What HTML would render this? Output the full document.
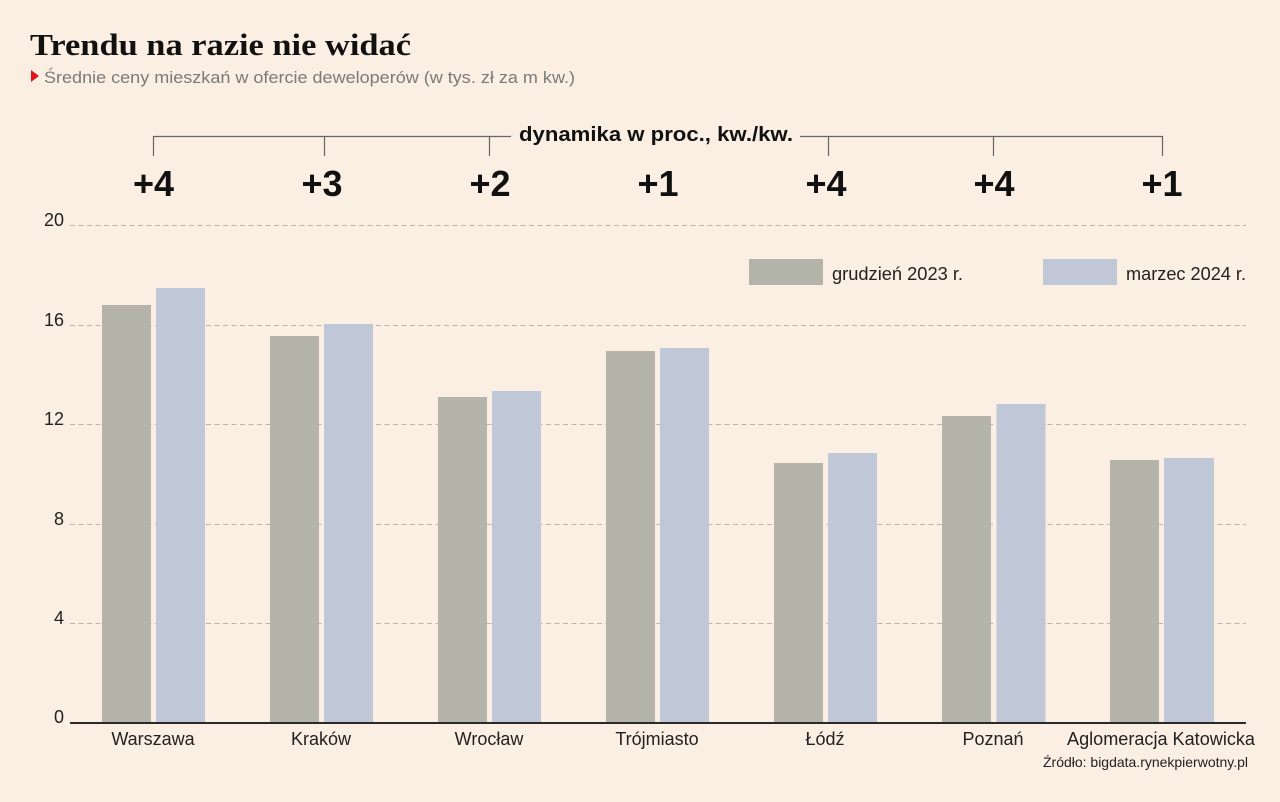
<!DOCTYPE html>
<html><head><meta charset="utf-8"><style>
html,body{margin:0;padding:0;background:#FBEEE3;}
svg{display:block;}
text{font-family:"Liberation Sans",sans-serif;}
</style></head><body>
<svg width="1280" height="802" viewBox="0 0 1280 802" xmlns="http://www.w3.org/2000/svg">
<rect width="1280" height="802" fill="#FBEEE3"/>
<text x="30" y="55" font-family="Liberation Serif, serif" style="font-family:'Liberation Serif',serif" font-weight="bold" font-size="31" fill="#111" textLength="381" lengthAdjust="spacingAndGlyphs">Trendu na razie nie widać</text>
<polygon points="31,70 39,76 31,82" fill="#E3141B"/>
<text x="44" y="83" font-size="17" fill="#7a7a7a" textLength="531" lengthAdjust="spacingAndGlyphs">Średnie ceny mieszkań w ofercie deweloperów (w tys. zł za m kw.)</text>

<!-- bracket -->
<g stroke="#666" stroke-width="1.2" fill="none">
<line x1="153.5" y1="136.5" x2="511" y2="136.5"/>
<line x1="800" y1="136.5" x2="1162.5" y2="136.5"/>
<line x1="153.5" y1="136" x2="153.5" y2="156"/>
<line x1="324.5" y1="136" x2="324.5" y2="156"/>
<line x1="489.5" y1="136" x2="489.5" y2="156"/>
<line x1="828.5" y1="136" x2="828.5" y2="156"/>
<line x1="993.5" y1="136" x2="993.5" y2="156"/>
<line x1="1162.5" y1="136" x2="1162.5" y2="156"/>
</g>
<text x="656" y="141" font-size="20" font-weight="bold" fill="#111" text-anchor="middle" textLength="274" lengthAdjust="spacingAndGlyphs">dynamika w proc., kw./kw.</text>
<g font-size="36" font-weight="bold" fill="#111" text-anchor="middle">
<text x="153.5" y="196">+4</text>
<text x="322" y="196">+3</text>
<text x="490" y="196">+2</text>
<text x="658" y="196">+1</text>
<text x="826" y="196">+4</text>
<text x="994" y="196">+4</text>
<text x="1162" y="196">+1</text>
</g>

<!-- gridlines -->
<g stroke="#BFB3AA" stroke-width="1" stroke-dasharray="5,3.5">
<line x1="70" y1="225.5" x2="1246" y2="225.5"/>
<line x1="70" y1="325.5" x2="1246" y2="325.5"/>
<line x1="70" y1="424.5" x2="1246" y2="424.5"/>
<line x1="70" y1="524.5" x2="1246" y2="524.5"/>
<line x1="70" y1="623.5" x2="1246" y2="623.5"/>
</g>
<g font-size="18" fill="#222" text-anchor="end">
<text x="64" y="226">20</text>
<text x="64" y="326">16</text>
<text x="64" y="425">12</text>
<text x="64" y="525">8</text>
<text x="64" y="624">4</text>
<text x="64" y="723">0</text>
</g>

<!-- legend -->
<rect x="749" y="259" width="74" height="26" fill="#B5B4AA"/>
<text x="832" y="280" font-size="18" fill="#222" textLength="131" lengthAdjust="spacingAndGlyphs">grudzień 2023 r.</text>
<rect x="1043" y="259" width="74" height="26" fill="#C0C7D6"/>
<text x="1126" y="280" font-size="18" fill="#222" textLength="120" lengthAdjust="spacingAndGlyphs">marzec 2024 r.</text>

<!-- bars -->
<g fill="#B5B4AA">
<rect x="102" y="305" width="49" height="418"/>
<rect x="270" y="336" width="49" height="387"/>
<rect x="438" y="397" width="49" height="326"/>
<rect x="606" y="351" width="49" height="372"/>
<rect x="774" y="463" width="49" height="260"/>
<rect x="942" y="416" width="49" height="307"/>
<rect x="1110" y="460" width="49" height="263"/>
</g>
<g fill="#C0C7D6">
<rect x="156" y="288" width="49" height="435"/>
<rect x="324" y="324" width="49" height="399"/>
<rect x="492" y="391" width="49" height="332"/>
<rect x="660" y="348" width="49" height="375"/>
<rect x="828" y="453" width="49" height="270"/>
<rect x="996.5" y="404" width="49" height="319"/>
<rect x="1164" y="458" width="50" height="265"/>
</g>
<line x1="70" y1="723" x2="1246" y2="723" stroke="#2a2a2a" stroke-width="2"/>

<!-- x labels -->
<g font-size="18" fill="#222" text-anchor="middle">
<text x="153" y="745">Warszawa</text>
<text x="321" y="745">Kraków</text>
<text x="489" y="745">Wrocław</text>
<text x="657" y="745">Trójmiasto</text>
<text x="825" y="745">Łódź</text>
<text x="993" y="745">Poznań</text>
<text x="1161" y="745" textLength="188" lengthAdjust="spacingAndGlyphs">Aglomeracja Katowicka</text>
</g>
<text x="1248" y="767" font-size="14" fill="#222" text-anchor="end" textLength="205" lengthAdjust="spacingAndGlyphs">Źródło: bigdata.rynekpierwotny.pl</text>
</svg>
</body></html>
